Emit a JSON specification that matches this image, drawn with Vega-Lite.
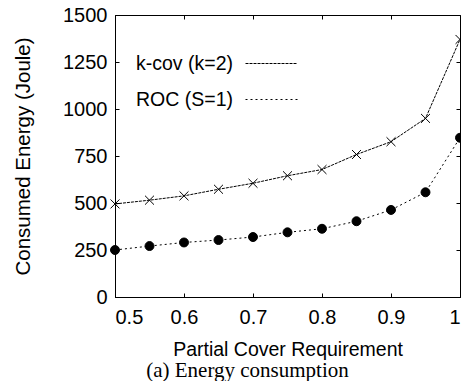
{
  "$schema": "https://vega.github.io/schema/vega-lite/v6.json",
  "width": 345,
  "height": 282,
  "autosize": {"type": "none"},
  "padding": {"left": 115, "top": 15, "right": 1, "bottom": 84},
  "background": "white",
  "title": {
    "text": "(a)  Energy consumption",
    "orient": "bottom",
    "font": "Liberation Serif",
    "fontSize": 21,
    "fontWeight": "normal",
    "color": "black",
    "dx": -40,
    "offset": 1
  },
  "data": {
    "values": [
      {"x": 0.5, "series": "k-cov (k=2)", "y": 495},
      {"x": 0.55, "series": "k-cov (k=2)", "y": 515},
      {"x": 0.6, "series": "k-cov (k=2)", "y": 538},
      {"x": 0.65, "series": "k-cov (k=2)", "y": 573},
      {"x": 0.7, "series": "k-cov (k=2)", "y": 605},
      {"x": 0.75, "series": "k-cov (k=2)", "y": 645},
      {"x": 0.8, "series": "k-cov (k=2)", "y": 678},
      {"x": 0.85, "series": "k-cov (k=2)", "y": 758},
      {"x": 0.9, "series": "k-cov (k=2)", "y": 826},
      {"x": 0.95, "series": "k-cov (k=2)", "y": 950},
      {"x": 1.0, "series": "k-cov (k=2)", "y": 1370},
      {"x": 0.5, "series": "ROC (S=1)", "y": 250},
      {"x": 0.55, "series": "ROC (S=1)", "y": 271},
      {"x": 0.6, "series": "ROC (S=1)", "y": 290},
      {"x": 0.65, "series": "ROC (S=1)", "y": 303},
      {"x": 0.7, "series": "ROC (S=1)", "y": 319},
      {"x": 0.75, "series": "ROC (S=1)", "y": 344},
      {"x": 0.8, "series": "ROC (S=1)", "y": 363},
      {"x": 0.85, "series": "ROC (S=1)", "y": 403},
      {"x": 0.9, "series": "ROC (S=1)", "y": 463},
      {"x": 0.95, "series": "ROC (S=1)", "y": 557},
      {"x": 1.0, "series": "ROC (S=1)", "y": 847}
    ]
  },
  "layer": [
    {
      "mark": {"type": "line", "color": "black", "strokeWidth": 1, "clip": false},
      "encoding": {
        "x": {
          "field": "x", "type": "quantitative",
          "scale": {"domain": [0.5, 1], "nice": false, "zero": false},
          "axis": {
            "title": "Partial Cover Requirement",
            "titleFontSize": 19.5,
            "values": [0.5, 0.6, 0.7, 0.8, 0.9, 1.0],
            "labelExpr": "datum.value == 1 ? '1' : format(datum.value, '.1f')",
            "tickSize": -4,
            "labelPadding": 14,
            "titlePadding": 13
          }
        },
        "y": {
          "field": "y", "type": "quantitative",
          "scale": {"domain": [0, 1500], "nice": false},
          "axis": {
            "title": "Consumed Energy (Joule)",
            "titleFontSize": 20.5,
            "values": [0, 250, 500, 750, 1000, 1250, 1500],
            "format": "d",
            "tickSize": -4,
            "labelPadding": 12,
            "titlePadding": 29
          }
        },
        "strokeDash": {
          "field": "series", "type": "nominal",
          "scale": {"domain": ["k-cov (k=2)", "ROC (S=1)"], "range": [[3, 1], [2, 3]]},
          "legend": {
            "orient": "none",
            "legendX": 130,
            "legendY": 22,
            "title": null,
            "padding": 0,
            "symbolType": "M-1,0H1",
            "symbolSize": 2704,
            "symbolStrokeWidth": 1,
            "symbolStrokeColor": "black",
            "labelAlign": "right",
            "labelOffset": -65,
            "labelFontSize": 19.5,
            "labelFont": "Liberation Sans",
            "labelColor": "black",
            "rowPadding": -14
          }
        },
        "detail": {"field": "series"}
      }
    },
    {
      "mark": {"type": "point", "filled": true, "fill": "black", "stroke": "black", "strokeWidth": 1, "size": 80, "opacity": 1, "clip": false},
      "encoding": {
        "x": {"field": "x", "type": "quantitative", "axis": null},
        "y": {"field": "y", "type": "quantitative", "axis": null},
        "shape": {
          "field": "series", "type": "nominal",
          "scale": {"domain": ["k-cov (k=2)", "ROC (S=1)", "none"], "range": ["M-1,-1L1,1M-1,1L1,-1", "circle", "square"]},
          "legend": null
        }
      }
    },
    {
      "mark": {"type": "point", "opacity": 0},
      "encoding": {
        "x": {
          "field": "x", "type": "quantitative",
          "axis": {"orient": "top", "values": [0.5, 0.6, 0.7, 0.8, 0.9, 1.0], "labels": false, "title": null, "tickSize": -4, "domain": false}
        },
        "y": {
          "field": "y", "type": "quantitative",
          "axis": {"orient": "right", "values": [0, 250, 500, 750, 1000, 1250, 1500], "labels": false, "title": null, "tickSize": -4, "domain": false}
        }
      }
    }
  ],
  "resolve": {"axis": {"x": "independent", "y": "independent"}},
  "config": {
    "view": {"stroke": "black", "strokeWidth": 1},
    "axis": {
      "grid": false,
      "domainColor": "black",
      "domainWidth": 1,
      "tickColor": "black",
      "tickWidth": 1,
      "labelColor": "black",
      "labelFont": "Liberation Sans",
      "labelFontSize": 20,
      "titleFont": "Liberation Sans",
      "titleFontSize": 19.5,
      "titleFontWeight": "normal",
      "titleColor": "black"
    }
  }
}
